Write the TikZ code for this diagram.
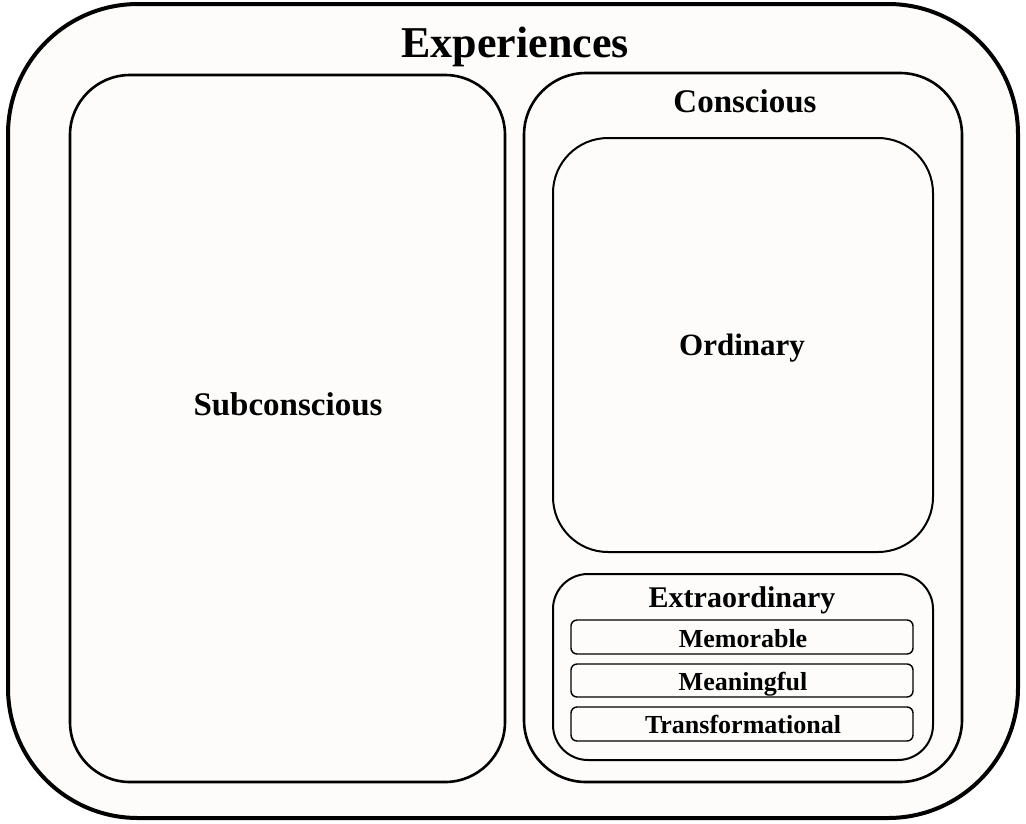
\documentclass[tikz,border=0pt]{standalone}
\usepackage{fontspec}
\setmainfont{Liberation Serif}
\begin{document}
\begin{tikzpicture}[x=1pt,y=-1pt,every node/.style={inner sep=0pt}]
\definecolor{paper}{HTML}{FDFCFB}
\useasboundingbox[fill=white] (0,0) rectangle (1026,823);
\node[line width=4pt, draw=black, fill=paper, rounded corners=130pt, minimum width=1010pt, minimum height=814pt] (exp) at (513,411) {};
\node[line width=2.6pt, draw=black, fill=paper, rounded corners=60pt, minimum width=435pt, minimum height=707pt] (sub) at (287.5,428.5) {};
\node[line width=2.6pt, draw=black, fill=paper, rounded corners=62pt, minimum width=438pt, minimum height=709pt] (con) at (743,427.5) {};
\node[line width=2pt, draw=black, fill=paper, rounded corners=55pt, minimum width=380pt, minimum height=414pt] (ord) at (743,345) {};
\node[line width=2pt, draw=black, fill=paper, rounded corners=35pt, minimum width=380pt, minimum height=186pt] (ext) at (743,667) {};
\node[line width=1.4pt, draw=black, fill=paper, rounded corners=6pt, minimum width=342pt, minimum height=34pt] (mem) at (742,637) {};
\node[line width=1.4pt, draw=black, fill=paper, rounded corners=6pt, minimum width=342pt, minimum height=33pt] (mea) at (742,680.5) {};
\node[line width=1.4pt, draw=black, fill=paper, rounded corners=6pt, minimum width=342pt, minimum height=34pt] (tra) at (742,724) {};
% labels
\node[anchor=base, font=\fontsize{44}{48}\selectfont\bfseries] at (515,57) {Experiences};
\node[anchor=base, font=\fontsize{33}{36}\selectfont\bfseries] at (288,415) {Subconscious};
\node[anchor=base, font=\fontsize{33}{36}\selectfont\bfseries] at (745,112) {Conscious};
\node[anchor=base, font=\fontsize{31}{34}\selectfont\bfseries] at (742,355) {Ordinary};
\node[anchor=base, font=\fontsize{30}{33}\selectfont\bfseries] at (742,607) {Extraordinary};
\node[anchor=base, font=\fontsize{26}{28}\selectfont\bfseries] at (743,647) {Memorable};
\node[anchor=base, font=\fontsize{26}{28}\selectfont\bfseries] at (743,690) {Meaningful};
\node[anchor=base, font=\fontsize{26}{28}\selectfont\bfseries] at (743,733) {Transformational};
\end{tikzpicture}
\end{document}
